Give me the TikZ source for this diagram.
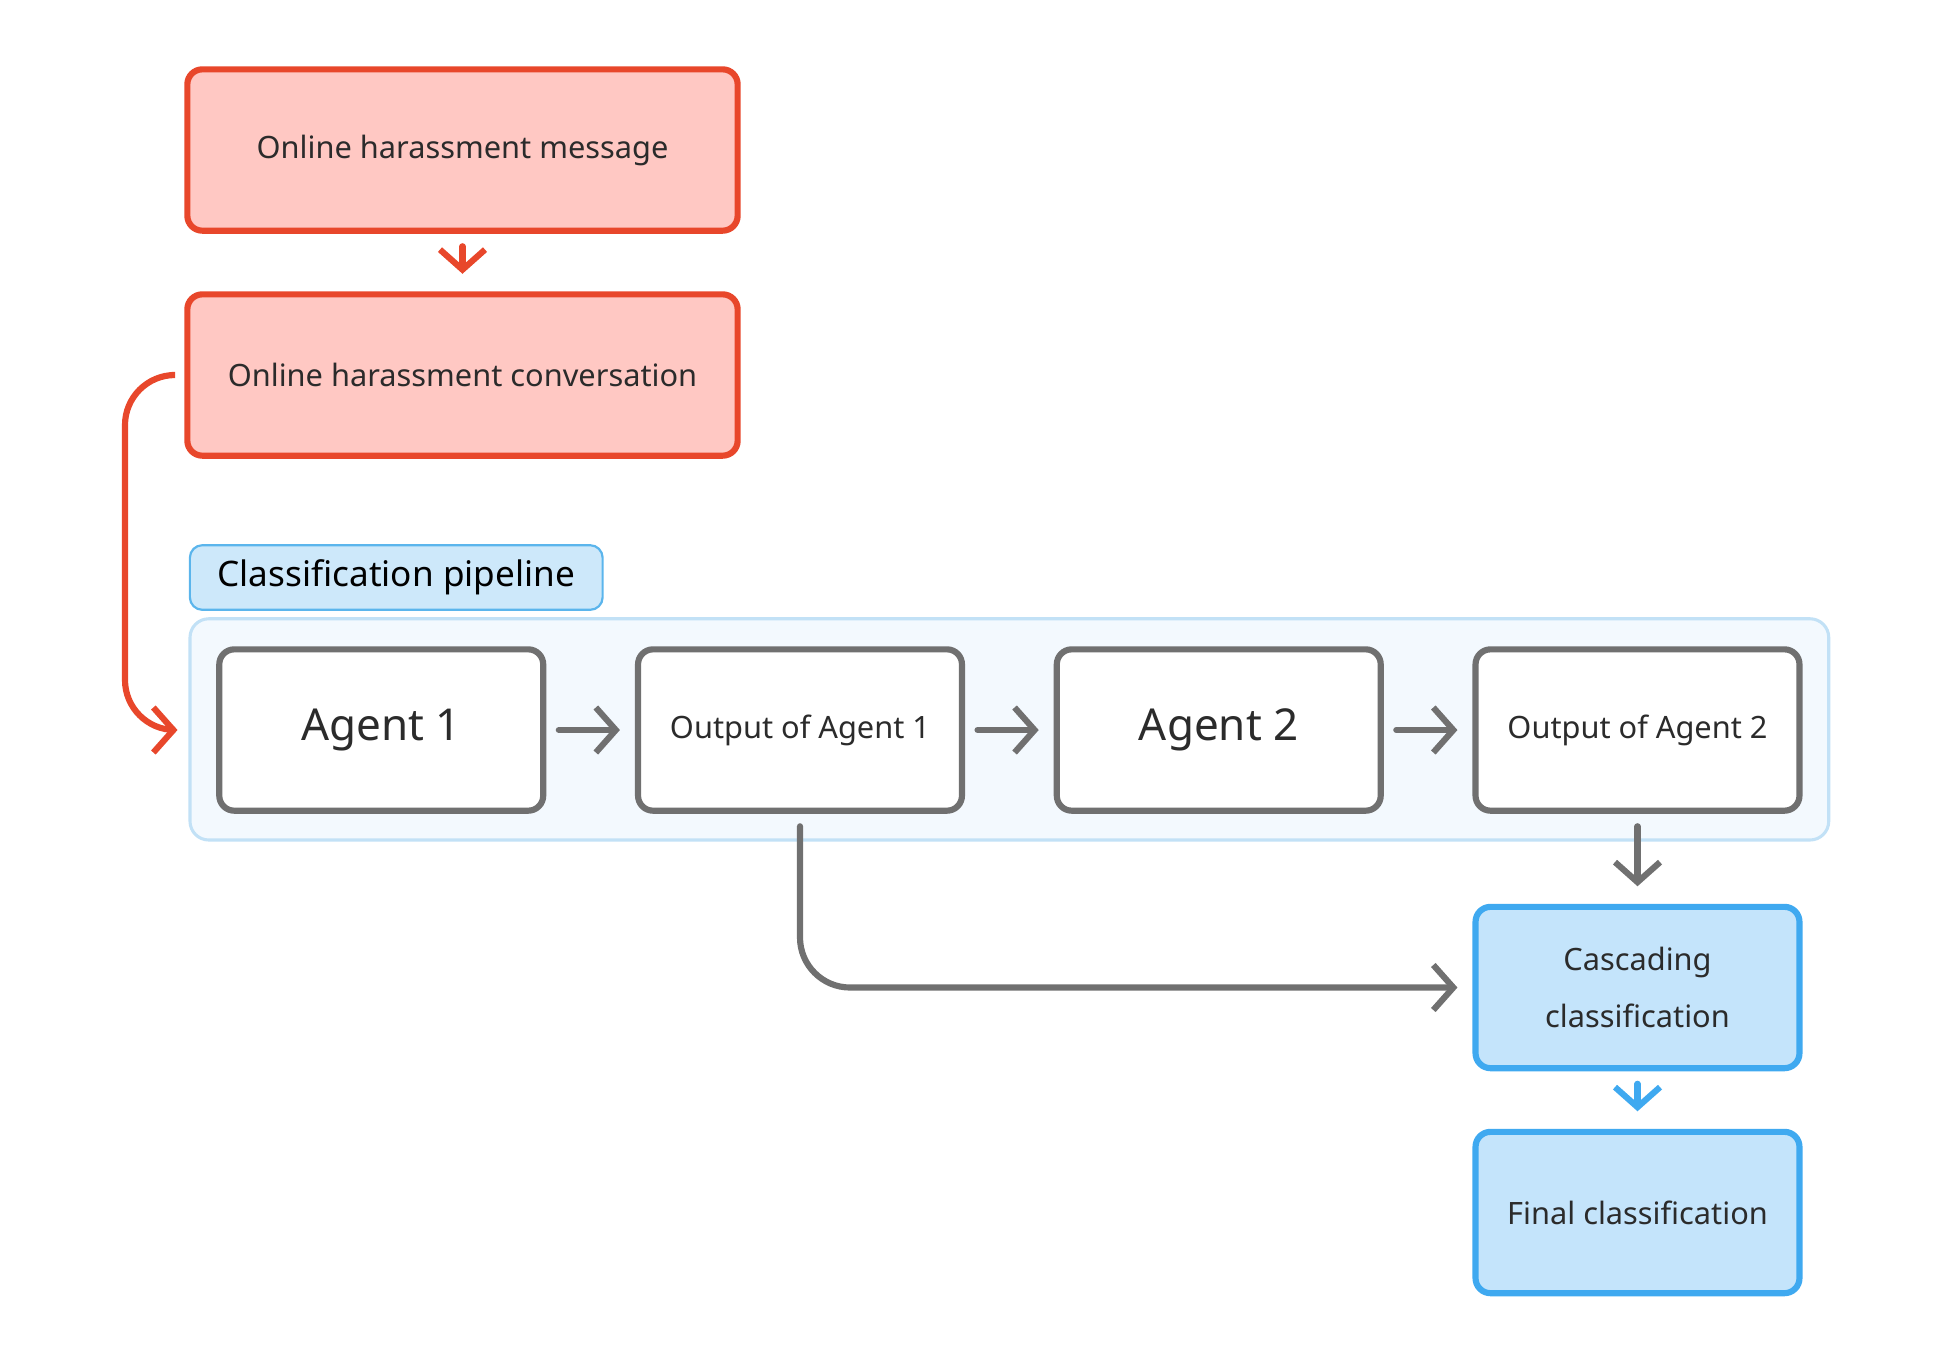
\documentclass[tikz,border=0pt]{standalone}
\usepackage{fontspec}
\setmainfont{Noto Sans}
\usetikzlibrary{arrows.meta}
\usetikzlibrary{positioning}
\definecolor{redline}{HTML}{E8472B}
\definecolor{redfill}{HTML}{FFC8C3}
\definecolor{grayline}{HTML}{707070}
\definecolor{blueline}{HTML}{3FA9F0}
\definecolor{bluefill}{HTML}{C4E4FB}
\definecolor{pipefill}{HTML}{F3F9FE}
\definecolor{pipeline}{HTML}{C2E1F6}
\definecolor{tagfill}{HTML}{CDE8FA}
\definecolor{tagline}{HTML}{5BB5EC}
\definecolor{txt}{HTML}{2B2B2B}
\begin{document}
\begin{tikzpicture}[x=0.01cm,y=-0.01cm]
  \tikzset{
    box/.style={draw,rounded corners=1.2mm,line width=1.4pt,minimum width=2.59cm,minimum height=1.29cm,align=center,text=txt,font=\fontsize{7}{10}\selectfont},
    redbox/.style={box,draw=redline,fill=redfill,minimum width=4.4cm},
    graybox/.style={box,draw=grayline,fill=white},
    bluebox/.style={box,draw=blueline,fill=bluefill},
    agent/.style={graybox,font=\fontsize{10}{12}\selectfont},
    chev/.style={line width=1.4pt,line cap=round,-{Straight Barb[length=1.6mm,width=3.6mm,line width=1.4pt]}},
  }
  \useasboundingbox (0,0) rectangle (1560,1096);
  %PIPELINE FRAME
  \draw[draw=pipeline,fill=pipefill,line width=0.7pt,rounded corners=1.5mm] (152,495) rectangle (1463,672);
  \node[draw=tagline,fill=tagfill,line width=0.5pt,rounded corners=1mm,minimum width=3.3cm,minimum height=0.43cm,font=\fontsize{8}{10}\selectfont\bfseries,text=black] (tag) at (317,462) {Classification pipeline};
  %INPUT
  \node[redbox] (msg) at (370,120) {Online harassment message};
  \node[redbox] (conv) at (370,300) {Online harassment conversation};
  %AGENTS
  \node[agent] (a1) at (305,584) {Agent 1};
  \node[graybox] (o1) at (640,584) {Output of Agent 1};
  \node[agent] (a2) at (975,584) {Agent 2};
  \node[graybox] (o2) at (1310,584) {Output of Agent 2};
  %RESULT
  \node[bluebox] (casc) at (1310,790) {Cascading\\[1mm]classification};
  \node[bluebox] (final) at (1310,970) {Final classification};
  %ARROWS
  \draw[chev,redline] ([yshift=-0.1cm]msg.south) -- ([yshift=0.14cm]conv.north);
  \draw[chev,redline,rounded corners=0.4cm] ([xshift=-0.1cm]conv.west) -- (100,300) -- (100,584) -- ([xshift=-0.1cm]a1.west -| 152,584);
  \foreach \x/\y in {a1/o1,o1/a2,a2/o2} {
    \draw[chev,grayline] ([xshift=0.1cm]\x.east) -- ([xshift=-0.12cm]\y.west);
  }
  \draw[chev,grayline] ([yshift=-0.1cm]o2.south) -- ([yshift=0.14cm]casc.north);
  \draw[chev,grayline,rounded corners=0.4cm] ([yshift=-0.1cm]o1.south) |- ([xshift=-0.12cm]casc.west);
  \draw[chev,blueline] ([yshift=-0.1cm]casc.south) -- ([yshift=0.14cm]final.north);
\end{tikzpicture}
\end{document}
